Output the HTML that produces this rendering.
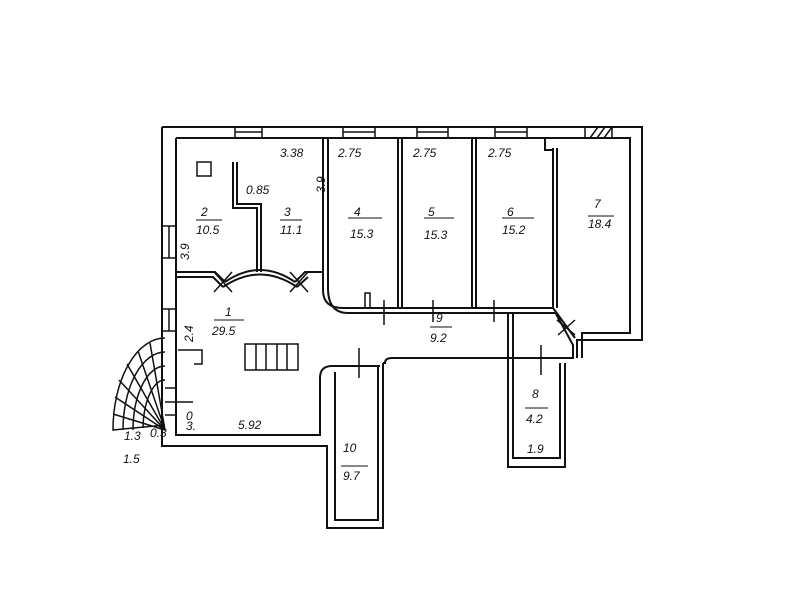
<!DOCTYPE html>
<html><head><meta charset="utf-8"><style>
html,body{margin:0;padding:0;background:#fff;width:800px;height:600px;overflow:hidden}
svg{display:block}
text{font-family:"Liberation Sans",sans-serif;font-size:12px;fill:#111;font-style:italic}
</style></head><body>
<svg width="800" height="600" viewBox="0 0 800 600" xmlns="http://www.w3.org/2000/svg">
<g fill="none" stroke="#111" stroke-width="2">
<path d="M162 127 H642 V340 H577 V358"/>
<path d="M176 138 H630 V333 H582 V358"/>
<path d="M162 127 V446 H327 V528 H383 V363"/>
<path d="M176 138 V435 H320 V378 Q320 366 332 366 H378 V520 H335 V372"/>
<path d="M383 363 H385 Q385 358 392 358 H573 V345 L555 312"/>
<path d="M378 366 H380"/>
<path d="M508 312 V467 H565 V363"/>
<path d="M513 312 V458 H560 V363"/>
<path d="M323 138 V290 Q323 308 343 308 H553"/>
<path d="M328 138 V288 Q328 313 348 313 H555"/>
<path d="M553 308 L575 338"/>
<path d="M398 138 V308 M402 138 V308 M472 138 V308 M476 138 V308"/>
<path d="M553 148 V308 M557 148 V308 M545 138 V150 H553"/>
<path d="M233 162 V208 H257 V272 M237 162 V204 H261 V272"/>
<path d="M176 272 H215 L225 282 M176 277 H213 L223 287"/>
<path d="M225 282 Q260 258 295 282 M223 287 Q260 262 297 287"/>
<path d="M295 282 L305 272 H323 M297 287 L308 277"/>
</g>
<g stroke="#111" stroke-width="1.5" fill="none">
<path d="M214 272 L232 292 M232 272 L214 292"/>
<path d="M290 272 L308 292 M308 272 L290 292"/>
<path d="M557 320 L575 335 M575 320 L558 335"/>
<path d="M384 300 V325 M433 300 V322 M494 300 V322 M359 348 V378 M541 345 V375"/>
<rect x="235" y="127" width="27" height="11"/><line x1="235" y1="132" x2="262" y2="132"/>
<rect x="343" y="127" width="32" height="11"/><line x1="343" y1="132" x2="375" y2="132"/>
<rect x="417" y="127" width="31" height="11"/><line x1="417" y1="132" x2="448" y2="132"/>
<rect x="495" y="127" width="32" height="11"/><line x1="495" y1="132" x2="527" y2="132"/>
<rect x="585" y="127" width="27" height="11"/>
<path d="M590 138 L598 127 M597 138 L605 127 M604 138 L612 127"/>
<rect x="162" y="226" width="14" height="32"/><line x1="169" y1="226" x2="169" y2="258"/>
<rect x="162" y="309" width="14" height="22"/><line x1="169" y1="309" x2="169" y2="331"/>
<rect x="197" y="162" width="14" height="14"/>
<rect x="365" y="293" width="5" height="15"/>
<path d="M178 350 H202 V364 H194"/>
<rect x="245" y="344" width="53" height="26"/>
<path d="M256 344 V370 M266 344 V370 M277 344 V370 M287 344 V370"/>
<path d="M165 388 H176 M165 402 H193 M165 415 H176"/>
<!-- quarter stair (ellipse quadrant, center 165,430) -->
<path d="M165 338 A52 92 0 0 0 113 430 L165 425"/>
<path d="M165 352 A42 78 0 0 0 123 430"/>
<path d="M165 366 A32 64 0 0 0 133 430"/>
<path d="M165 380 A22 50 0 0 0 143 428"/>
<path d="M165 430 L150 343 M165 430 L138 351 M165 430 L127 364 M165 430 L119 380 M165 430 L115 397 M165 430 L113 414"/>
</g>
<g>
<text x="280" y="157">3.38</text>
<text x="338" y="157">2.75</text>
<text x="413" y="157">2.75</text>
<text x="488" y="157">2.75</text>
<text x="246" y="194">0.85</text>
<text x="313" y="195" font-size="9" transform="rotate(-90 318 188)">3.9</text>
<text x="177" y="262" font-size="9" transform="rotate(-90 182 255)">3.9</text>
<text x="201" y="216">2</text><line x1="196" y1="220" x2="222" y2="220" stroke="#111"/>
<text x="196" y="234">10.5</text>
<text x="284" y="216">3</text><line x1="280" y1="220" x2="302" y2="220" stroke="#111"/>
<text x="280" y="234">11.1</text>
<text x="354" y="216">4</text><line x1="348" y1="218" x2="382" y2="218" stroke="#111"/>
<text x="350" y="238">15.3</text>
<text x="428" y="216">5</text><line x1="424" y1="218" x2="454" y2="218" stroke="#111"/>
<text x="424" y="239">15.3</text>
<text x="507" y="216">6</text><line x1="502" y1="218" x2="534" y2="218" stroke="#111"/>
<text x="502" y="234">15.2</text>
<text x="594" y="208">7</text><line x1="588" y1="216" x2="614" y2="216" stroke="#111"/>
<text x="588" y="228">18.4</text>
<text x="225" y="316">1</text><line x1="214" y1="320" x2="244" y2="320" stroke="#111"/>
<text x="212" y="335">29.5</text>
<text x="436" y="322">9</text><line x1="430" y1="327" x2="452" y2="327" stroke="#111"/>
<text x="430" y="342">9.2</text>
<text x="532" y="398">8</text><line x1="525" y1="408" x2="548" y2="408" stroke="#111"/>
<text x="526" y="423">4.2</text>
<text x="527" y="453">1.9</text>
<text x="343" y="452">10</text><line x1="341" y1="466" x2="368" y2="466" stroke="#111"/>
<text x="343" y="480">9.7</text>
<text x="238" y="429">5.92</text>
<text x="182" y="345" font-size="9" transform="rotate(-90 186 338)">2.4</text>
<text x="186" y="420" font-size="10">0</text>
<text x="186" y="430" font-size="9">3.</text>
<text x="124" y="440" font-size="10">1.3</text>
<text x="150" y="437" font-size="9">0.3</text>
<text x="123" y="463" font-size="11">1.5</text>
</g>
</svg>
</body></html>
